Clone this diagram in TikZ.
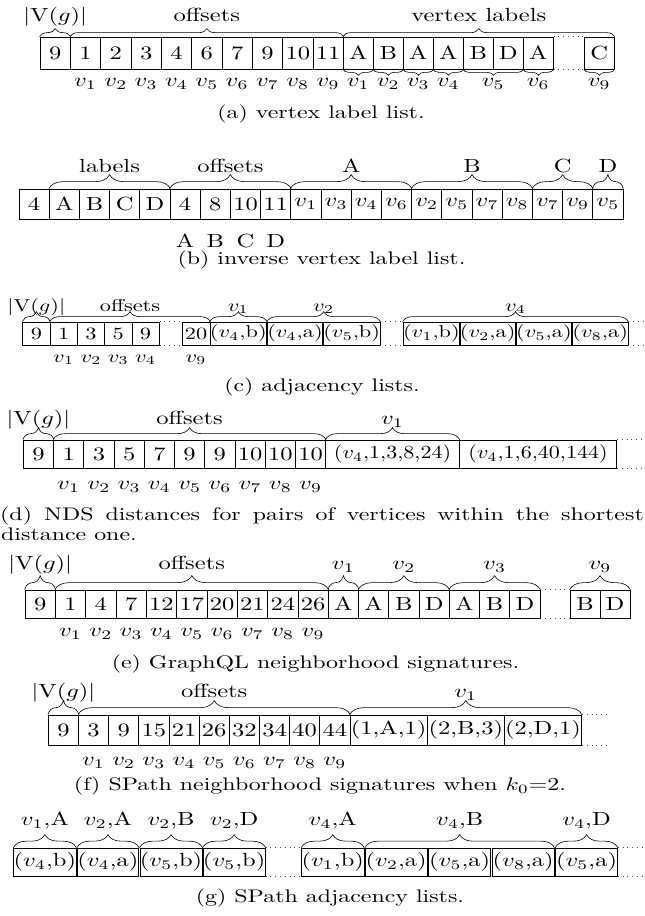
\documentclass[tikz,border=0pt]{standalone}
\usepackage{graphicx}
\usetikzlibrary{decorations.pathreplacing,calc}
\newcommand{\sx}[1]{\scalebox{2.45}[1.9]{#1}}
\newcommand{\sxc}[1]{\scalebox{2.39}[1.82]{#1}}
\newcommand{\sxs}[1]{\scalebox{2.23}[1.72]{#1}}
\newcommand{\sxt}[1]{\scalebox{2.2}[1.85]{#1}}
\newcommand{\VG}{$|\mathrm{V}(g)|$}
\tikzset{
  cell/.style={draw, line width=0.7pt, inner sep=0pt},
  txt/.style={anchor=base, inner sep=0pt},
  lab/.style={txt, midway, yshift=#1},
  br/.style={decorate, decoration={brace, amplitude=#1}, line width=0.6pt},
  dots/.style={line width=0.8pt, dash pattern=on 0.8pt off 4pt, black!70}
}
\begin{document}
\begin{tikzpicture}[x=1pt,y=-1pt,font=\normalsize]
\useasboundingbox (0,0) rectangle (645,916);
% ---------------- (a)
\foreach \t [count=\i] in {9,1,2,3,4,6,7,9,10,11}
  \node[cell, minimum width=30.33pt, minimum height=32pt] (a\i) at ({40+(\i-0.5)*30.33},53) {\sx{\t}};
\foreach \t [count=\i] in {A,B,A,A,B,D,A}
  \node[cell, minimum width=30pt, minimum height=32pt] (l\i) at ({343.3+(\i-0.5)*30},53) {\sx{\t}};
\node[cell, minimum width=30pt, minimum height=32pt] (l9) at (599.3,53) {\sx{C}};
\draw[br=8pt] (a1.north west) -- node[lab=15pt] (ha1) {\sx{\VG}} (a1.north east);
\draw[br=8pt] (a2.north west) -- node[lab=15pt] (ha2) {\sx{offsets}} (a10.north east);
\draw[br=8pt] (l1.north west) -- node[lab=15pt] (ha3) {\sx{vertex labels}} (l9.north east);
\foreach \s/\e/\n in {1/1/1,2/2/2,3/3/3,4/4/4,5/6/5,7/7/6,9/9/9}
  \draw[br=6pt] (l\e.south east) -- node[lab=-17pt] (ua\n) {\sx{$v_{\n}$}} (l\s.south west);
\foreach \i [evaluate=\i as \j using int(\i-1)] in {2,...,10}
  \node[txt] (va\i) at ([yshift=-17pt]a\i.south) {\sx{$v_{\j}$}};
\draw[dots] (l7.north east) -- (l9.north west);
\draw[dots] (l7.south east) -- (l9.south west);
\node[txt] (capa) at (321,118) {\sxc{(a) vertex label list.}};
% ---------------- (b)
\foreach \t [count=\i] in {4,A,B,C,D,4,8,10,11,$v_1$,$v_3$,$v_4$,$v_6$,$v_2$,$v_5$,$v_7$,$v_8$,$v_7$,$v_9$,$v_5$}
  \node[cell, minimum width=30.2pt, minimum height=30pt] (b\i) at ({19+(\i-0.5)*30.2},204) {\sx{\t}};
\foreach \s/\e/\n in {2/5/labels,6/9/offsets,10/13/A,14/17/B,18/19/C,20/20/D}
  \draw[br=14pt] (b\s.north west) -- node[lab=16pt] (hb\s) {\sx{\n}} (b\e.north east);
\foreach \t [count=\i from 6] in {A,B,C,D}
  \node[txt] (bl\i) at ([yshift=-27.7pt]b\i.south) {\sx{\t}};
\node[txt] (capb) at (321.5,264) {\sxc{(b) inverse vertex label list.}};
% ---------------- (c)
\foreach \t [count=\i] in {9,1,3,5,9}
  \node[cell, minimum width=27.3pt, minimum height=23pt] (c\i) at ({22.7+(\i-0.5)*27.3},333.5) {\sxs{\t}};
\node[cell, minimum width=28pt, minimum height=23pt] (c9) at (196,333.5) {\sxs{20}};
\foreach \t [count=\i] in {{($v_4$,b)},{($v_4$,a)},{($v_5$,b)}}
  \node[cell, minimum width=55pt, minimum height=23pt] (p\i) at ({210+(\i-0.5)*56.67},333.5) {\sxs{\t}};
\foreach \t [count=\i] in {{($v_1$,b)},{($v_2$,a)},{($v_5$,a)},{($v_8$,a)}}
  \node[cell, minimum width=54.6pt, minimum height=23pt] (q\i) at ({403.3+(\i-0.5)*56.25},333.5) {\sxs{\t}};
\draw[br=10pt] (c1.north west) -- node[lab=10.5pt] (hc1) {\sxs{\VG}} (c1.north east);
\draw[br=10pt] (c2.north west) -- node[lab=10.5pt] (hc2) {\sxs{offsets}} (c9.north east);
\draw[br=10pt] (p1.north west) -- node[lab=10.5pt] (hc3) {\sxs{$v_1$}} (p1.north east);
\draw[br=10pt] (p2.north west) -- node[lab=10.5pt] (hc4) {\sxs{$v_2$}} (p3.north east);
\draw[br=10pt] (q1.north west) -- node[lab=10.5pt] (hc5) {\sxs{$v_4$}} (q4.north east);
\coordinate (ce1) at ($(q4.north east)+(17,0)$);
\coordinate (ce2) at ($(q4.south east)+(17,0)$);
\draw[dots] (c5.north east) -- (c9.north west);
\draw[dots] (c5.south east) -- (c9.south west);
\draw[dots] (p3.north east) -- (q1.north west);
\draw[dots] (p3.south east) -- (q1.south west);
\draw[dots] (q4.north east) -- (ce1);
\draw[dots] (q4.south east) -- (ce2);
\foreach \i/\n in {2/1,3/2,4/3,5/4,9/9}
  \node[txt] (vc\i) at ([yshift=-17pt]c\i.south) {\sxs{$v_{\n}$}};
\node[txt] (capc) at (322,391.5) {\sxc{(c) adjacency lists.}};
% ---------------- (d)
\foreach \t [count=\i] in {9,1,3,5,7,9,9,10,10,10}
  \node[cell, minimum width=30.24pt, minimum height=28pt] (d\i) at ({23.3+(\i-0.5)*30.24},454) {\sx{\t}};
\node[cell, minimum width=133.6pt, minimum height=28pt] (t1) at (392.5,454) {\sxt{($v_4$,1,3,8,24)}};
\node[cell, minimum width=157.4pt, minimum height=28pt] (t2) at (538,454) {\sxt{($v_4$,1,6,40,144)}};
\draw[br=12pt] (d1.north west) -- node[lab=15pt] (hd1) {\sx{\VG}} (d1.north east);
\draw[br=12pt] (d2.north west) -- node[lab=15pt] (hd2) {\sx{offsets}} (d10.north east);
\draw[br=12pt] (t1.north west) -- node[lab=15pt] (hd3) {\sx{$v_1$}} (t1.north east);
\coordinate (de1) at ($(t2.north east)+(28,0)$);
\coordinate (de2) at ($(t2.south east)+(28,0)$);
\draw[dots] (t2.north east) -- (de1);
\draw[dots] (t2.south east) -- (de2);
\foreach \i [evaluate=\i as \j using int(\i-1)] in {2,...,10}
  \node[txt] (vd\i) at ([yshift=-21pt]d\i.south) {\sx{$v_{\j}$}};
\node[txt, anchor=base west] (capd1) at (0,520.5) {\sxc{\makebox[269.3pt][s]{(d) NDS distances for pairs of vertices within the shortest}}};
\node[txt, anchor=base west] (capd2) at (1,540.5) {\sxc{distance one.}};
% ---------------- (e)
\foreach \t [count=\i] in {9,1,4,7,12,17,20,21,24,26}
  \node[cell, minimum width=30.33pt, minimum height=28pt] (e\i) at ({25+(\i-0.5)*30.33},604) {\sx{\t}};
\foreach \t [count=\i] in {A,A,B,D,A,B,D}
  \node[cell, minimum width=30.24pt, minimum height=28pt] (g\i) at ({328.3+(\i-0.5)*30.24},604) {\sx{\t}};
\node[cell, minimum width=30pt, minimum height=28pt] (g8) at (585,604) {\sx{B}};
\node[cell, minimum width=30pt, minimum height=28pt] (g9) at (615,604) {\sx{D}};
\draw[br=14pt] (e1.north west) -- node[lab=20pt] (he1) {\sx{\VG}} (e1.north east);
\draw[br=14pt] (e2.north west) -- node[lab=20pt] (he2) {\sx{offsets}} (e10.north east);
\foreach \s/\e/\n in {1/1/1,2/4/2,5/7/3,8/9/9}
  \draw[br=14pt] (g\s.north west) -- node[lab=20pt] (hg\s) {\sx{$v_{\n}$}} (g\e.north east);
\draw[dots] (g7.north east) -- (g8.north west);
\draw[dots] (g7.south east) -- (g8.south west);
\foreach \i [evaluate=\i as \j using int(\i-1)] in {2,...,10}
  \node[txt] (ve\i) at ([yshift=-18pt]e\i.south) {\sx{$v_{\j}$}};
\node[txt] (cape) at (315.5,668.5) {\sxc{(e) GraphQL neighborhood signatures.}};
% ---------------- (f)
\foreach \t [count=\i] in {9,3,9,15,21,26,32,34,40,44}
  \node[cell, minimum width=30.17pt, minimum height=30pt] (f\i) at ({48.3+(\i-0.5)*30.17},730) {\sx{\t}};
\foreach \t [count=\i] in {{(1,A,1)},{(2,B,3)},{(2,D,1)}}
  \node[cell, minimum width=77.2pt, minimum height=30pt] (s\i) at ({350+(\i-0.5)*77.2},730) {\sx{\t}};
\draw[br=14pt] (f1.north west) -- node[lab=17pt] (hf1) {\sx{\VG}} (f1.north east);
\draw[br=14pt] (f2.north west) -- node[lab=17pt] (hf2) {\sx{offsets}} (f10.north east);
\draw[br=14pt] (s1.north west) -- node[lab=17pt] (hf3) {\sx{$v_1$}} (s3.north east);
\coordinate (fe1) at ($(s3.north east)+(26,0)$);
\coordinate (fe2) at ($(s3.south east)+(26,0)$);
\draw[dots] (s3.north east) -- (fe1);
\draw[dots] (s3.south east) -- (fe2);
\foreach \i [evaluate=\i as \j using int(\i-1)] in {2,...,10}
  \node[txt] (vf\i) at ([yshift=-20pt]f\i.south) {\sx{$v_{\j}$}};
\node[txt] (capf) at (320,790.5) {\sxc{(f) SPath neighborhood signatures when $k_0$=2.}};
% ---------------- (g)
\foreach \t [count=\i] in {{($v_4$,b)},{($v_4$,a)},{($v_5$,b)},{($v_5$,b)}}
  \node[cell, minimum width=61.5pt, minimum height=28pt] (h\i) at ({13.3+(\i-0.5)*63.1},862) {\sx{\t}};
\foreach \t [count=\i] in {{($v_1$,b)},{($v_2$,a)},{($v_5$,a)},{($v_8$,a)},{($v_5$,a)}}
  \node[cell, minimum width=61.9pt, minimum height=28pt] (k\i) at ({301+(\i-0.5)*63.46},862) {\sx{\t}};
\foreach \n [count=\i] in {{$v_1$,A},{$v_2$,A},{$v_2$,B},{$v_2$,D}}
  \draw[br=13pt] (h\i.north west) -- node[lab=22pt] (hh\i) {\sx{\n}} (h\i.north east);
\draw[br=13pt] (k1.north west) -- node[lab=22pt] (hk1) {\sx{$v_4$,A}} (k1.north east);
\draw[br=13pt] (k2.north west) -- node[lab=22pt] (hk2) {\sx{$v_4$,B}} (k4.north east);
\draw[br=13pt] (k5.north west) -- node[lab=22pt] (hk5) {\sx{$v_4$,D}} (k5.north east);
\coordinate (ge1) at ($(k5.north east)+(27,0)$);
\coordinate (ge2) at ($(k5.south east)+(27,0)$);
\draw[dots] (h4.north east) -- (k1.north west);
\draw[dots] (h4.south east) -- (k1.south west);
\draw[dots] (k5.north east) -- (ge1);
\draw[dots] (k5.south east) -- (ge2);
\node[txt] (capg) at (330,902) {\sxc{(g) SPath adjacency lists.}};
\end{tikzpicture}
\end{document}
